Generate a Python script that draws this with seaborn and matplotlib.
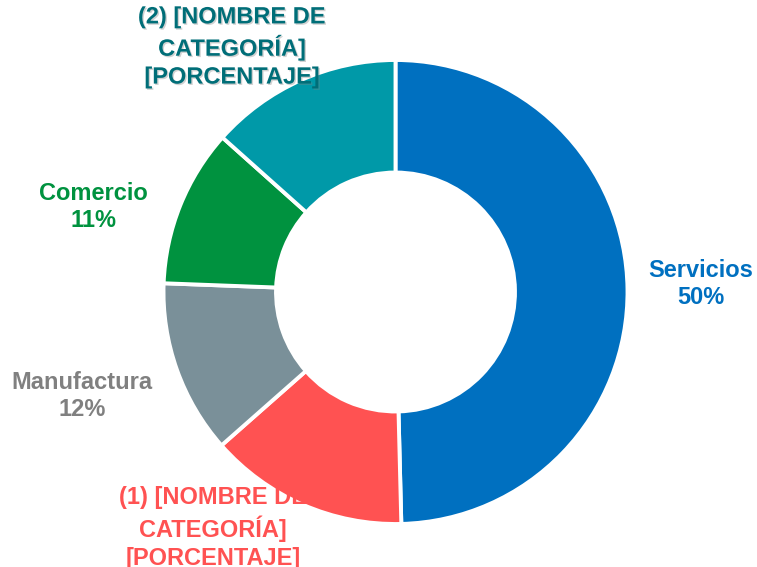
import matplotlib
matplotlib.use("Agg")
import matplotlib.pyplot as plt
import matplotlib.patheffects as pe
import seaborn as sns

categories = ["Servicios", "(1) [NOMBRE DE\nCATEGORÍA]\n[PORCENTAJE]", "Manufactura", "Comercio",
              "(2) [NOMBRE DE\nCATEGORÍA]\n[PORCENTAJE]"]
values = [49.6, 13.9, 12.1, 11.0, 13.4]
pct_labels = ["50%", "", "12%", "11%", ""]
slice_colors = ["#0070C0", "#FF5252", "#7A9099", "#00923F", "#0099A8"]
text_colors = ["#0070C0", "#FF5252", "#808080", "#00923F", "#006E78"]

sns.set_theme(style="white")
plt.rcParams['font.family'] = ['Liberation Sans', 'DejaVu Sans']

fig = plt.figure(figsize=(7.57, 5.67), dpi=100)
ax = fig.add_axes([0, 0, 1, 1])

cx, cy, r = 395.5, 567 - 292, 232
ax.pie(values, colors=slice_colors, startangle=90, counterclock=False,
       center=(cx, cy), radius=r, frame=True,
       wedgeprops=dict(width=r * 0.485, edgecolor="white", linewidth=2.8))
ax.set_xlim(0, 757)
ax.set_ylim(0, 567)
ax.set_aspect("equal")
ax.axis("off")

label_pos = [(701, 567 - 284), (213, 567 - 528), (82, 567 - 396), (93, 567 - 207), (232, 567 - 47)]
for cat, pct, col, (x, y) in zip(categories, pct_labels, text_colors, label_pos):
    txt = cat if not pct else f"{cat}\n{pct}"
    effects = None
    if cat.startswith("(2)"):
        effects = [pe.withSimplePatchShadow(offset=(1, -1), shadow_rgbFace="gray", alpha=0.35)]
    ax.text(x, y, txt, ha="center", va="center", color=col, fontsize=17,
            fontweight="bold", linespacing=1.27, path_effects=effects)

fig.savefig("out.png", dpi=100)
